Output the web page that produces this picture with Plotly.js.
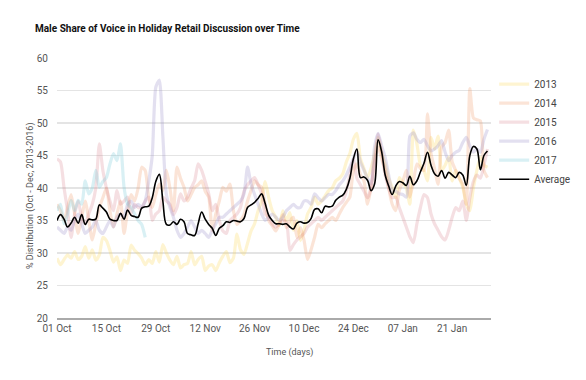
<!DOCTYPE html>
<html>
<head>
<meta charset="utf-8">
<script src="https://cdn.plot.ly/plotly-3.0.1.min.js"></script>
<style>html,body{margin:0;padding:0;background:#fff;}#chart{width:586px;height:380px;}</style>
</head>
<body>
<div id="chart"></div>
<script>
// Day 0 = 01 Oct, daily through 31 Jan (123 days)
const startDate = '2016-10-01';
const nDays = 123;

const y2013 = [
  29.2, 28.2, 29.0, 29.7, 29.2, 30.2, 29.0, 29.5, 31.0, 29.2,
  30.5, 28.9, 29.7, 32.4, 31.9, 30.4, 28.6, 29.4, 27.3, 28.9,
  28.4, 31.2, 30.4, 29.9, 29.2, 28.2, 29.0, 28.4, 30.2, 28.6,
  31.3, 30.0, 28.9, 28.2, 29.5, 27.7, 28.2, 28.4, 30.2, 28.2,
  29.0, 29.5, 27.3, 28.0, 28.2, 27.3, 28.5, 29.5, 30.2, 28.5,
  29.2, 32.9, 30.5, 29.8, 31.5, 33.4, 34.5, 36.5, 38.0, 41.0,
  38.5, 36.5, 35.5, 34.2, 36.5, 35.0, 36.2, 33.5, 35.0, 31.9,
  33.5, 36.0, 37.0, 38.6, 37.5, 38.0, 38.8, 39.6, 40.0, 41.1,
  41.5, 42.2, 44.0, 45.3, 47.5, 48.4, 44.5, 43.0, 41.6, 43.0,
  45.3, 47.8, 45.5, 43.7, 41.5, 40.1, 38.5, 41.6, 40.8, 40.0,
  37.5, 48.9, 46.8, 43.5, 42.7, 41.1, 47.8, 46.0, 48.0, 42.7,
  43.5, 44.7, 41.1, 42.7, 41.5, 40.1, 37.5, 36.5, 40.0, 42.7,
  44.7, 43.5, 43.2
];
const y2014 = [
  37.5, 36.5, 35.0, 37.0, 39.0, 36.0, 33.0, 35.5, 38.0, 35.0,
  32.0, 34.5, 37.0, 38.5, 40.0, 36.5, 34.0, 36.0, 38.0, 33.0,
  36.5, 39.0, 38.0, 40.0, 43.2, 42.7, 38.6, 37.0, 39.0, 40.6,
  39.6, 42.7, 40.0, 36.5, 43.2, 41.5, 40.1, 38.0, 39.0, 40.1,
  40.5, 41.1, 39.5, 38.6, 33.4, 36.0, 38.0, 40.1, 39.5, 40.6,
  36.5, 34.4, 35.0, 35.9, 38.0, 39.6, 41.1, 40.5, 40.1, 37.5,
  35.0, 34.2, 33.4, 34.5, 35.9, 33.9, 35.0, 35.5, 32.4, 33.9,
  32.0, 29.0, 30.5, 32.4, 34.4, 33.9, 34.5, 35.0, 35.5, 35.0,
  36.0, 37.0, 37.8, 38.6, 42.7, 43.7, 42.0, 41.1, 37.5, 40.0,
  44.2, 46.3, 44.5, 42.7, 40.0, 37.5, 36.5, 39.6, 41.0, 42.7,
  38.6, 41.0, 43.7, 43.0, 42.7, 51.4, 45.3, 43.0, 40.6, 46.3,
  47.0, 48.9, 44.0, 42.7, 41.5, 40.6, 37.5, 55.3, 50.8, 50.5,
  50.3, 42.7, 41.6
];
const y2015 = [
  44.5, 44.0, 40.0, 36.5, 32.4, 36.0, 38.0, 35.5, 34.5, 36.0,
  37.5, 40.0, 46.8, 42.7, 40.0, 38.0, 36.5, 39.6, 37.5, 38.0,
  38.6, 36.0, 37.5, 37.0, 37.0, 38.0, 38.6, 35.0, 36.0, 36.5,
  38.6, 38.0, 37.5, 35.9, 37.0, 39.1, 38.0, 38.6, 40.0, 41.1,
  43.7, 42.7, 41.0, 39.1, 36.5, 37.5, 35.0, 33.4, 33.0, 35.0,
  35.5, 36.0, 37.0, 39.5, 40.5, 41.1, 41.6, 40.5, 39.0, 36.0,
  35.5, 34.5, 34.0, 34.5, 35.0, 34.8, 30.4, 31.3, 32.0, 32.5,
  33.0, 34.0, 34.5, 35.0, 35.5, 35.0, 35.5, 36.0, 36.5, 37.0,
  37.5, 38.0, 39.5, 42.0, 44.5, 41.5, 40.5, 39.5, 38.5, 40.0,
  44.0, 48.3, 45.5, 42.0, 40.0, 38.5, 38.6, 37.0, 35.5, 34.0,
  32.5, 31.6, 34.5, 37.0, 39.0, 38.5, 36.0, 34.5, 33.5, 32.5,
  32.0, 33.5, 35.5, 37.0, 36.5, 38.0, 35.0, 38.5, 41.0, 42.0,
  41.5, 43.5, 46.0
];
const y2016 = [
  34.0, 33.5, 33.0, 34.0, 33.5, 35.0, 36.0, 34.5, 33.0, 33.5,
  34.0, 35.0, 33.5, 33.0, 34.0, 35.0, 34.0, 35.5, 36.0, 35.5,
  37.5, 38.0, 37.0, 37.5, 37.0, 38.0, 41.0, 45.0, 55.5, 56.6,
  48.0, 39.0, 37.0, 35.5, 33.5, 32.4, 33.0, 34.0, 35.0, 34.0,
  33.0, 33.5, 33.0, 32.4, 33.5, 34.5, 35.5, 35.5, 36.0, 36.5,
  37.0, 37.5, 38.0, 39.1, 43.2, 40.6, 39.0, 37.5, 36.0, 35.0,
  35.5, 36.0, 35.5, 35.0, 35.5, 36.5, 37.0, 37.5, 37.0, 37.0,
  38.0, 38.0, 37.5, 39.1, 38.5, 38.0, 38.5, 39.0, 39.0, 39.6,
  40.5, 41.1, 42.0, 43.2, 44.5, 45.8, 44.0, 42.7, 41.5, 40.6,
  46.3, 48.4, 46.5, 44.7, 42.0, 39.6, 39.5, 39.1, 39.0, 38.6,
  48.0, 48.5, 47.5, 47.0, 47.5, 46.5, 45.7, 46.0, 46.5, 47.3,
  45.5, 44.2, 45.0, 45.5, 45.8, 47.0, 47.8, 46.5, 45.5, 46.0,
  45.5, 47.5, 49.0
];
const y2017 = [
  36.5, 37.5, 34.5, 36.0, 38.1, 36.5, 38.1, 37.5, 41.1, 39.1,
  40.0, 42.7, 40.1, 41.0, 41.6, 43.7, 45.3, 44.2, 46.8, 40.1,
  37.5, 37.0, 36.0, 35.0, 34.4, 32.4
];
const yAverage = [
  35.0, 35.9, 35.2, 34.0, 34.6, 35.5, 34.6, 35.9, 34.4, 35.2,
  35.1, 35.2, 37.4, 36.9, 36.3, 35.2, 35.0, 35.0, 36.1, 35.2,
  36.6, 35.8, 35.6, 35.5, 36.9, 37.1, 37.2, 38.5, 41.0, 42.1,
  38.0, 34.4, 34.3, 34.8, 34.4, 35.2, 34.8, 33.0, 32.8, 32.7,
  34.5, 36.3, 35.2, 34.4, 33.8, 32.7, 33.8, 34.2, 34.8, 34.7,
  35.0, 34.9, 34.8, 35.3, 37.0, 37.4, 37.8, 38.4, 39.1, 37.6,
  35.8, 35.0, 34.5, 34.5, 34.4, 34.5, 34.0, 33.7, 34.6, 34.8,
  34.6, 34.7, 35.3, 36.7, 36.8, 36.2, 37.2, 37.1, 37.2, 38.1,
  38.6, 38.9, 39.8, 41.5, 44.5, 46.0, 41.6, 41.7, 41.2, 39.6,
  40.6, 47.4, 45.6, 42.0, 40.3, 39.0, 40.3, 41.0, 40.8, 40.4,
  41.8, 40.5, 41.1, 42.5, 43.8, 45.5, 43.5, 42.2, 41.8, 42.7,
  41.5, 42.4, 42.0, 41.6, 42.4, 42.0, 40.4, 45.0, 46.4, 46.0,
  42.8, 45.0, 45.7
];

const seriesNames = ['2013', '2014', '2015', '2016', '2017', 'Average'];
const seriesColors = [
  'rgba(250,215,90,0.28)',
  'rgba(240,150,100,0.26)',
  'rgba(210,110,125,0.22)',
  'rgba(150,140,200,0.27)',
  'rgba(120,200,215,0.28)',
  '#000000'
];

const dates = [];
{
  const d0 = new Date(startDate + 'T00:00:00Z');
  for (let i = 0; i < nDays; i++) {
    const d = new Date(d0.getTime() + i * 86400000);
    dates.push(d.toISOString().slice(0, 10));
  }
}

const allY = [y2013, y2014, y2015, y2016, y2017, yAverage];
const traces = allY.map((ys, i) => ({
  type: 'scatter',
  mode: 'lines',
  name: seriesNames[i],
  x: dates.slice(0, ys.length),
  y: ys,
  line: {
    color: seriesColors[i],
    width: i === 5 ? 1.6 : 3.2,
    shape: 'spline',
    smoothing: i === 5 ? 1 : 0.6
  },
  hoverinfo: 'skip'
}));

const FONT = 'Roboto, "Open Sans", sans-serif';
const layout = {
  width: 586,
  height: 380,
  margin: {l: 57, r: 94, t: 58, b: 62},
  paper_bgcolor: '#ffffff',
  plot_bgcolor: '#ffffff',
  font: {family: FONT, size: 10, color: '#555'},
  title: {
    text: 'Male Share of Voice in Holiday Retail Discussion over Time',
    font: {family: FONT, size: 10, color: '#111', weight: 700},
    x: 35 / 586, xref: 'container', xanchor: 'left',
    y: 1 - 28 / 380, yref: 'container', yanchor: 'middle'
  },
  xaxis: {
    type: 'date',
    range: ['2016-10-01', '2017-02-01'],
    tick0: '2016-10-01',
    dtick: 14 * 86400000,
    tickformat: '%d %b',
    showgrid: false,
    zeroline: false,
    showline: true,
    linecolor: '#aaaaaa',
    linewidth: 1.5,
    ticks: '',
    tickfont: {family: FONT, size: 10, color: '#555'},
    fixedrange: true
  },
  yaxis: {
    range: [20, 60],
    tick0: 20,
    dtick: 5,
    showgrid: true,
    gridcolor: '#e4e4e4',
    gridwidth: 1.5,
    zeroline: false,
    showline: false,
    ticks: '',
    ticklabelstandoff: 8,
    tickfont: {family: FONT, size: 10, color: '#555'},
    fixedrange: true
  },
  legend: {
    x: 1.005, xanchor: 'left',
    y: 0.955, yanchor: 'top',
    font: {family: FONT, size: 10, color: '#444'},
    bgcolor: 'rgba(0,0,0,0)',
    tracegroupgap: 0,
    itemwidth: 30
  },
  annotations: [
    {
      text: '% Distribution (Oct - Dec, 2013-2016)',
      xref: 'paper', yref: 'paper',
      x: (30 - 57) / 435, y: (318 - 196) / 260,
      xanchor: 'center', yanchor: 'middle',
      textangle: -90, showarrow: false,
      font: {family: FONT, size: 9, color: '#555'}
    },
    {
      text: 'Time (days)',
      xref: 'paper', yref: 'paper',
      x: (290 - 57) / 435, y: (318 - 352) / 260,
      xanchor: 'center', yanchor: 'middle',
      showarrow: false,
      font: {family: FONT, size: 9, color: '#555'}
    }
  ],
  showlegend: true
};

Plotly.newPlot('chart', traces, layout, {staticPlot: true, displayModeBar: false});
</script>
</body>
</html>
